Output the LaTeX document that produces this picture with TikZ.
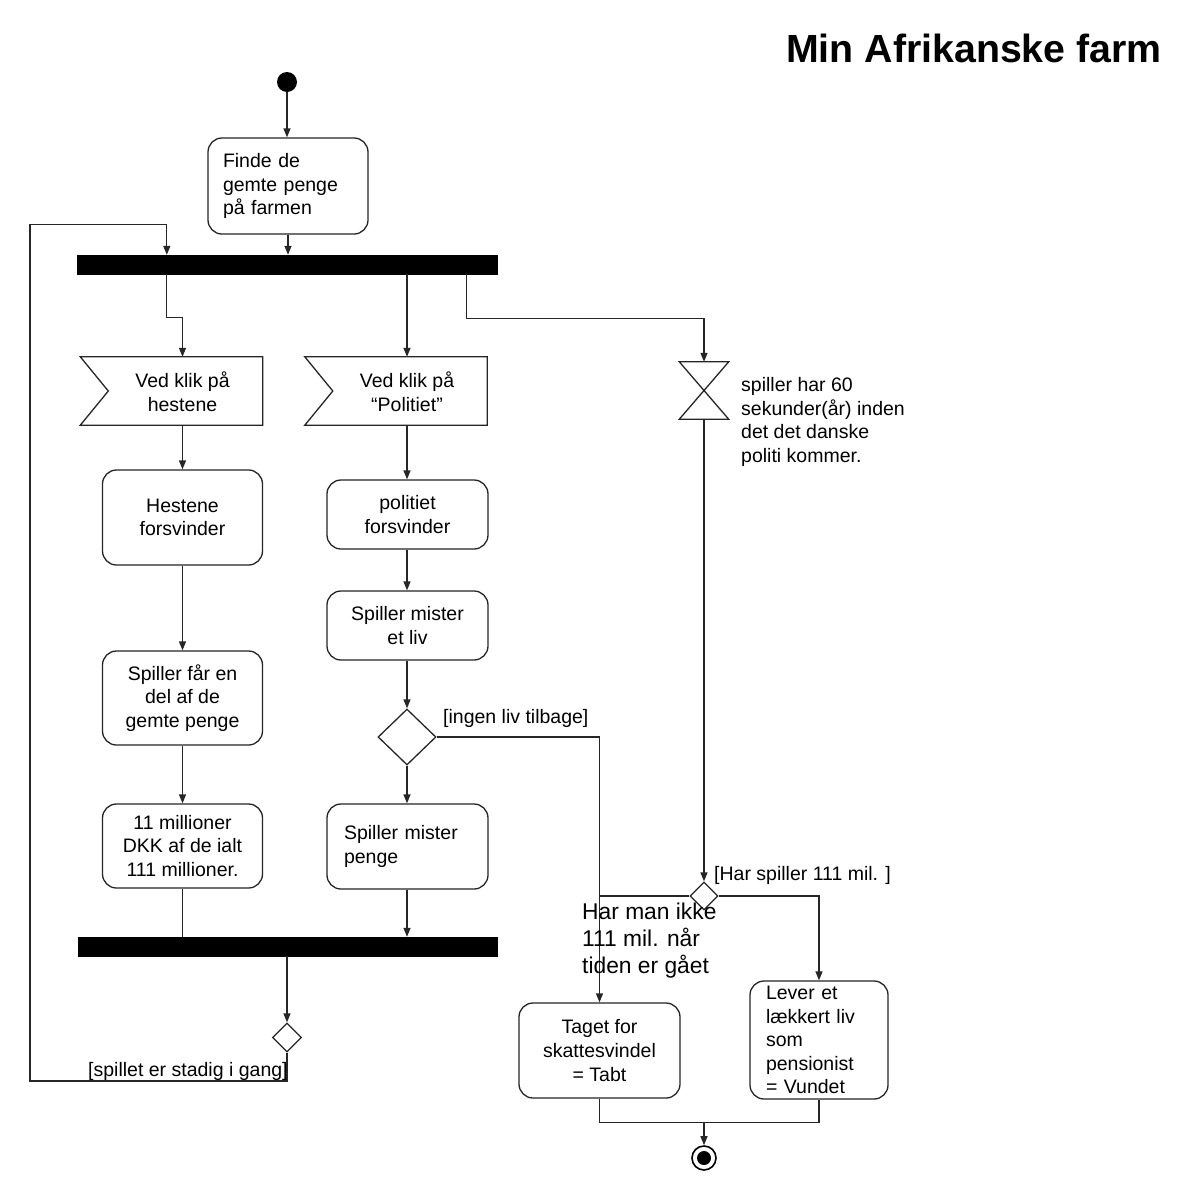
\documentclass[tikz,border=0pt]{standalone}
\usepackage{fontspec}
\setmainfont{Liberation Sans}
\usetikzlibrary{shapes.geometric,arrows.meta,calc}
\newcommand\myfs{\fontsize{19.5}{23.6}\selectfont}
\tikzset{
  ln/.style={line width=1.3pt, draw=black!85},
  arr/.style={ln, -{Triangle[length=9pt,width=7pt]}},
  act/.style={ln, rectangle, rounded corners=14pt, align=center, inner sep=0pt, font=\myfs, minimum width=160pt},
  evt/.style={rectangle, align=center, inner sep=0pt, font=\myfs, minimum width=160pt, minimum height=68pt},
  barbox/.style={rectangle, fill=black, draw=black, minimum height=19pt, inner sep=0pt},
  dia/.style={ln, diamond, inner sep=0pt, fill=white},
  lbl/.style={font=\myfs, inner sep=0pt, anchor=west}
}
\begin{document}
\begin{tikzpicture}[x=1pt,y=-1pt]
\useasboundingbox (0,0) rectangle (1176,1184);
\fill[white] (0,0) rectangle (1176,1184);

\node[font=\bfseries\fontsize{39.3}{44}\selectfont, anchor=base east, inner sep=0pt] (title) at (1162,62) {Min Afrikanske farm};

% nodes
\node[circle, fill=black, minimum size=20pt, inner sep=0pt] (start) at (287,82) {};
\node[act, minimum height=96pt, text width=130pt, align=left] (finde) at (288,186) {Finde de\\gemte penge\\på farmen};
\node[barbox, minimum width=420pt] (bar1) at (287,264.5) {};

\node[evt] (e1) at (182.5,392) {Ved klik på\\hestene};
\draw[ln] ($(e1.north east)+(0,-1)$) -- ($(e1.north west)+(-22,-1)$) -- ($(e1.west)+(6,-1)$) -- ($(e1.south west)+(-22,-1)$) -- ($(e1.south east)+(0,-1)$) -- cycle;
\node[evt] (e2) at (407,392) {Ved klik på\\“Politiet”};
\draw[ln] ($(e2.north east)+(0,-1)$) -- ($(e2.north west)+(-22,-1)$) -- ($(e2.west)+(6,-1)$) -- ($(e2.south west)+(-22,-1)$) -- ($(e2.south east)+(0,-1)$) -- cycle;

\node[rectangle, minimum width=49pt, minimum height=57pt, inner sep=0pt] (hg) at (704,390.5) {};
\draw[ln, line join=miter] (hg.north west) -- (hg.north east) -- (hg.south west) -- (hg.south east) -- cycle;
\node[font=\myfs, align=left, anchor=west, inner sep=0pt] (timer) at (741,422) {spiller har 60\\sekunder(år) inden\\det det danske\\politi kommer.};

\node[act, minimum height=95pt] (h1) at (182.5,517.5) {Hestene\\forsvinder};
\node[act, minimum height=94pt] (s1) at (182.5,698) {Spiller får en\\del af de\\gemte penge};
\node[act, minimum height=84pt] (m1) at (182.5,846) {11 millioner\\DKK af de ialt\\111 millioner.};

\node[act, minimum width=161pt, minimum height=69pt] (p1) at (407.5,514.5) {politiet\\forsvinder};
\node[act, minimum width=161pt, minimum height=69pt] (p2) at (407.5,625.5) {Spiller mister\\et liv};
\node[dia, minimum width=58pt, minimum height=56pt] (d1) at (407,737) {};
\node[act, minimum width=161pt, minimum height=85pt, text width=127pt, align=left] (p3) at (407.5,846.5) {Spiller mister\\penge};

\node[barbox, minimum width=419pt] (bar2) at (287.5,946.5) {};
\node[dia, minimum width=29pt, minimum height=29pt] (d3) at (287,1037.5) {};

\node[dia, minimum width=28pt, minimum height=28pt] (d2) at (704,896) {};
\node[act, minimum width=161pt, minimum height=95pt] (taget) at (599.5,1050.5) {Taget for\\skattesvindel\\= Tabt};
\node[act, minimum width=138pt, minimum height=118pt, text width=106pt, align=left] (lever) at (819,1040) {Lever et\\lækkert liv\\som\\pensionist\\= Vundet};

\node[circle, draw=black, line width=1.6pt, fill=white, minimum size=24pt, inner sep=0pt] (final) at (704,1158) {};
\node[circle, fill=black, minimum size=14pt, inner sep=0pt] (finalin) at (final.center) {};

% connectors
\draw[arr] (start) -- (start |- finde.north);
\draw[arr] (finde.south) -- (finde.south |- bar1.north);
\coordinate (loopL) at (30,1081);
\draw[arr] (d3.south) |- (loopL) |- ($(bar1.north west)+(90,-30)$) -- ($(bar1.north west)+(90,0)$);
\draw[arr] ($(bar1.south west)+(90,0)$) -- ++(0,43) -| ($(e1.north)+(0,-1)$);
\draw[arr] (e2.north |- bar1.south) -- ($(e2.north)+(0,-1)$);
\draw[arr] ($(bar1.south west)+(390,0)$) -- ++(0,44) -| (hg.north);

\draw[arr] ($(e1.south)+(0,-1)$) -- (e1.south |- h1.north);
\draw[arr] (h1.south) -- (s1.north);
\draw[arr] (s1.south) -- (m1.north);
\draw[ln] (m1.south) -- (m1.south |- bar2.north);

\draw[arr] ($(e2.south)+(0,-1)$) -- (e2.south |- p1.north);
\draw[arr] (e2.south |- p1.south) -- (e2.south |- p2.north);
\draw[arr] (d1.north |- p2.south) -- (d1.north);
\draw[arr] (d1.south) -- (d1.south |- p3.north);
\draw[arr] (d1.south |- p3.south) -- (d1.south |- bar2.north);
\draw[arr] (d1.east) -| (taget.north);

\draw[arr] (hg.south) -- (d2.north);
\draw[ln] (d2.west) -- (d2.west -| taget.north);
\draw[arr] (d2.east) -| (lever.north);

\draw[arr] (d3.north |- bar2.south) -- (d3.north);

\coordinate (mj) at ($(taget.south)+(0,24)$);
\draw[ln] (taget.south) -- (mj) -| (lever.south);
\draw[arr] (final.north |- mj) -- (final.north);

% labels
\node[lbl] (l1) at (443,718) {[ingen liv tilbage]};
\node[lbl] (l2) at (714,875) {[Har spiller 111 mil. ]};
\node[lbl] (l3) at (88,1071) {[spillet er stadig i gang]};
\node[anchor=west, align=left, inner sep=0pt, font=\fontsize{22.8}{27}\selectfont] (l4) at (582,941) {Har man ikke\\111 mil. når\\tiden er gået};
\end{tikzpicture}
\end{document}
